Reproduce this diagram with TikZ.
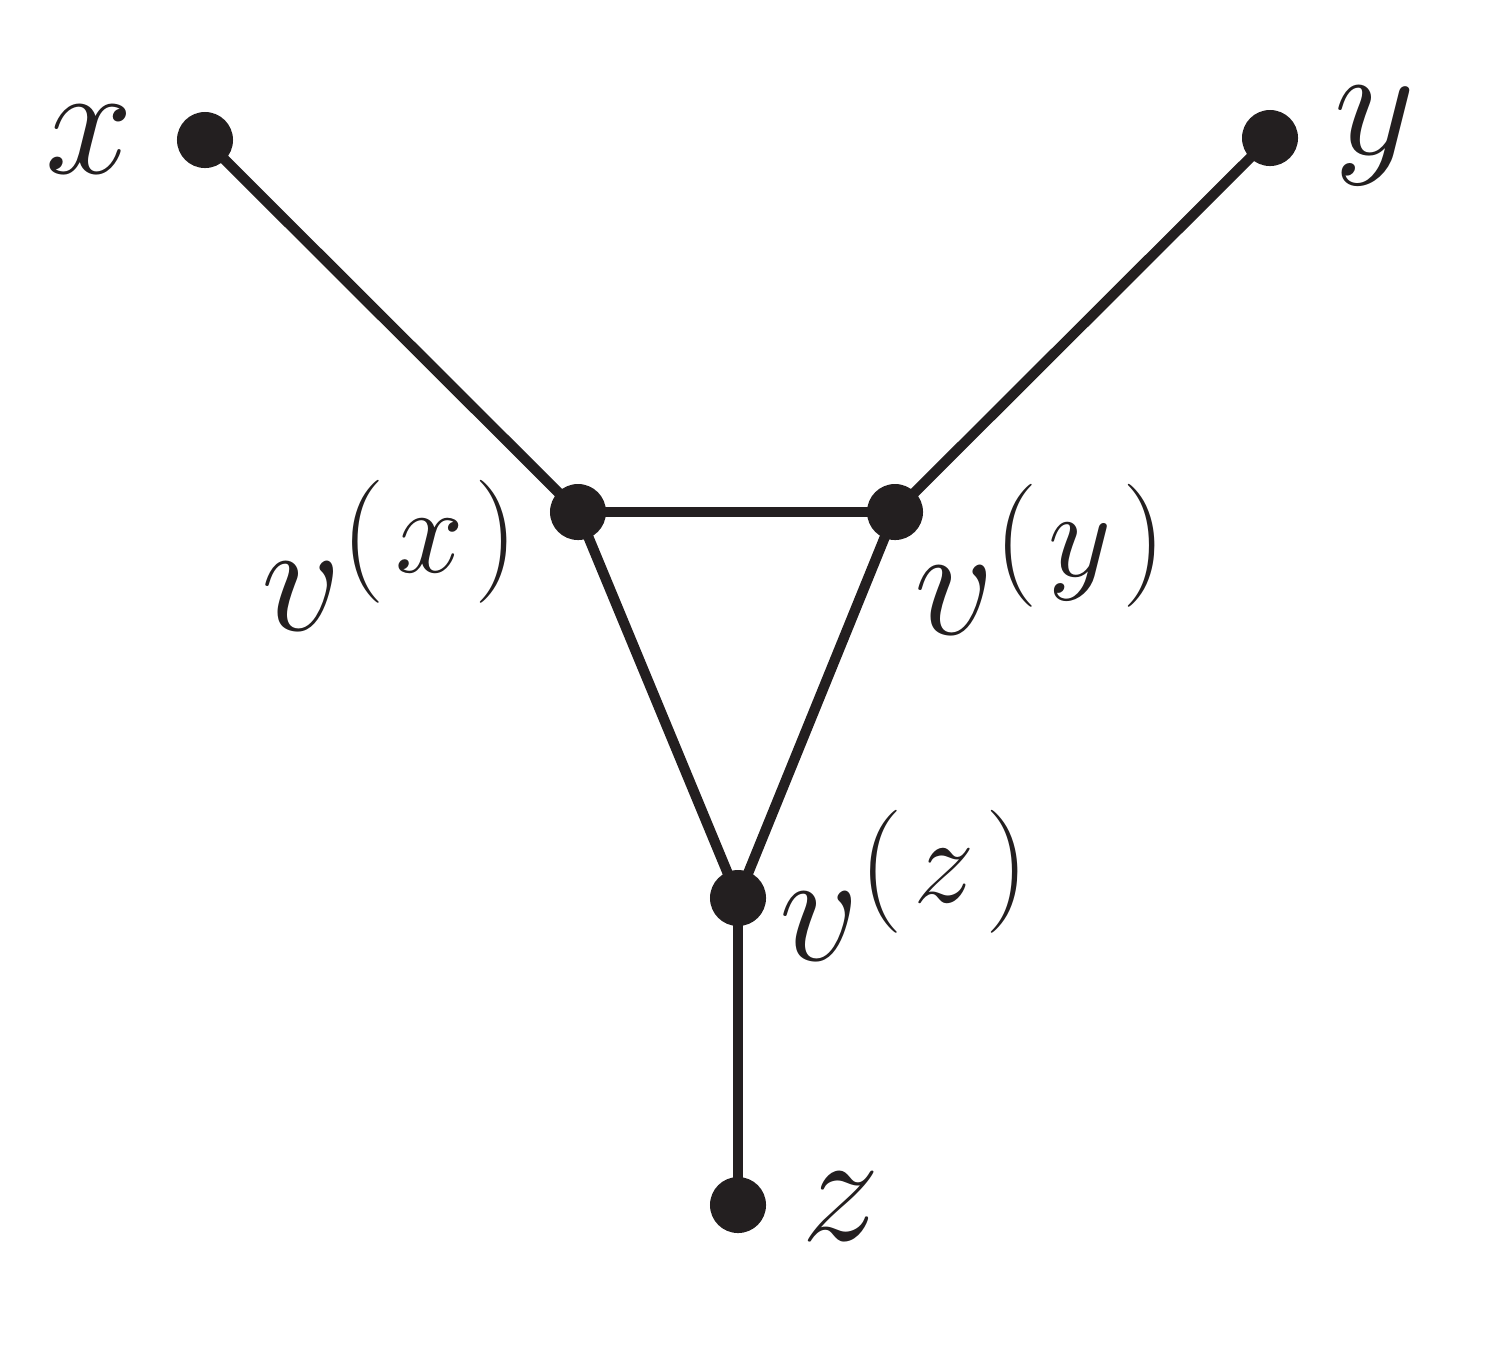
\documentclass[tikz,border=0pt]{standalone}
\usepackage{fix-cm}
\DeclareMathSizes{44.8}{44.8}{35}{25}
\definecolor{ink}{RGB}{35,31,32}
\newcommand{\supgap}{\mkern1.5mu}
\tikzset{
  dot/.style={circle,fill=ink,inner sep=0pt,minimum size=0.56cm},
  edge/.style={draw=ink,line width=2.9pt},
  lab/.style={inner sep=0pt,text=ink,font=\fontsize{44.8}{54}\selectfont}
}
\begin{document}
\begin{tikzpicture}[x=0.01cm,y=-0.01cm]
\useasboundingbox (0,0) rectangle (1500,1350);
\node[dot] (x) at (205,140) {};
\node[dot] (y) at (1270,138) {};
\node[dot] (vx) at (578,512) {};
\node[dot] (vy) at (895,512) {};
\node[dot] (vz) at (738,898) {};
\node[dot] (z) at (738,1205) {};
\draw[edge] (x.center) -- (vx.center);
\draw[edge] (y.center) -- (vy.center);
\draw[edge] (vx.center) -- (vy.center);
\draw[edge] (vx.center) -- (vz.center);
\draw[edge] (vy.center) -- (vz.center);
\draw[edge] (vz.center) -- (z.center);
\node[lab,anchor=base west] (lx) at (45,173) {$x$};
\node[lab,anchor=base west] (ly) at (1334,154) {$y$};
\node[lab,anchor=base west] (lvx) at (261,630) {$v^{(\supgap x\supgap)}$};
\node[lab,anchor=base west] (lvy) at (914,634) {$v^{(\supgap y\supgap)}$};
\node[lab,anchor=base west] (lvz) at (779,960) {$v^{(\supgap z\supgap)}$};
\node[lab,anchor=base west] (lz) at (801,1240) {$z$};
\end{tikzpicture}
\end{document}
